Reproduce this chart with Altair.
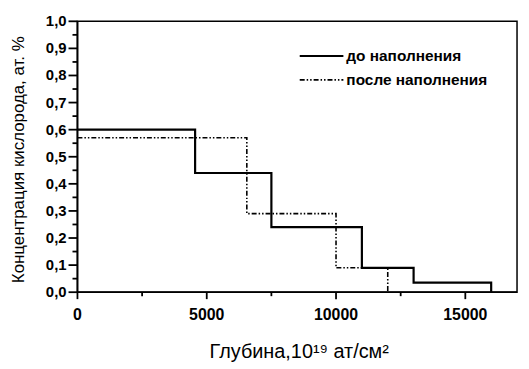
import altair as alt
import pandas as pd

# Series (step profiles)
depth_before = [0, 4550, 7500, 11000, 13000, 16000]
conc_before = [0.60, 0.44, 0.24, 0.09, 0.035, 0.0]
depth_after = [0, 6550, 10000, 12000]
conc_after = [0.57, 0.29, 0.09, 0.0]
series_names = ["до наполнения", "после наполнения"]

x_major = [0, 5000, 10000, 15000]
x_labels = ["0", "5000", "10000", "15000"]
x_minor = [2500, 7500, 12500]
y_major = [0.0, 0.1, 0.2, 0.3, 0.4, 0.5, 0.6, 0.7, 0.8, 0.9, 1.0]
y_labels = ["0,0", "0,1", "0,2", "0,3", "0,4", "0,5", "0,6", "0,7", "0,8", "0,9", "1,0"]
y_minor = [0.05, 0.15, 0.25, 0.35, 0.45, 0.55, 0.65, 0.75, 0.85, 0.95]
x_title = "Глубина,10¹⁹ ат/см²"
y_title = "Концентрация кислорода, ат. %"

df_b = pd.DataFrame({"x": depth_before, "y": conc_before, "s": series_names[0]})
df_a = pd.DataFrame({"x": depth_after, "y": conc_after, "s": series_names[1]})

FONT = "Liberation Sans"
DASH = [5, 2, 1.5, 2, 1.5, 2]
W, H = 443, 273

xscale = alt.Scale(domain=[0, 17000], nice=False, zero=False)
yscale = alt.Scale(domain=[0, 1.0], nice=False)

line_b = alt.Chart(df_b).mark_line(interpolate="step-after", color="black", strokeWidth=2.2).encode(
    x=alt.X("x:Q", scale=xscale, axis=None),
    y=alt.Y("y:Q", scale=yscale, axis=None),
)
line_a = alt.Chart(df_a).mark_line(interpolate="step-after", color="black", strokeWidth=1.6, strokeDash=DASH).encode(
    x=alt.X("x:Q", scale=xscale, axis=None),
    y=alt.Y("y:Q", scale=yscale, axis=None),
)

# axis lines (left & bottom) drawn heavier, like the original
axis_style = dict(color="black", strokeWidth=1.8)
x_domain = alt.Chart(pd.DataFrame({"a": [0]})).mark_rule(**axis_style).encode(
    x=alt.value(0), x2=alt.value(W), y=alt.value(H))
y_domain = alt.Chart(pd.DataFrame({"a": [0]})).mark_rule(**axis_style).encode(
    x=alt.value(0), y=alt.value(0), y2=alt.value(H))

# tick marks drawn from the tick arrays through the scales
tick_style = dict(color="black", strokeWidth=1.8)
xt_major = alt.Chart(pd.DataFrame({"x": x_major})).mark_rule(**tick_style).encode(
    x=alt.X("x:Q", scale=xscale, axis=None), y=alt.value(H), y2=alt.value(H + 7))
xt_minor = alt.Chart(pd.DataFrame({"x": x_minor})).mark_rule(**tick_style).encode(
    x=alt.X("x:Q", scale=xscale, axis=None), y=alt.value(H), y2=alt.value(H + 4))
yt_major = alt.Chart(pd.DataFrame({"y": y_major})).mark_rule(**tick_style).encode(
    y=alt.Y("y:Q", scale=yscale, axis=None), x=alt.value(0), x2=alt.value(-9))
yt_minor = alt.Chart(pd.DataFrame({"y": y_minor})).mark_rule(**tick_style).encode(
    y=alt.Y("y:Q", scale=yscale, axis=None), x=alt.value(0), x2=alt.value(-5))

# tick labels
xl = alt.Chart(pd.DataFrame({"x": x_major, "t": x_labels})).mark_text(
    align="center", baseline="top", font=FONT, fontSize=16, fontWeight="bold", color="black"
).encode(x=alt.X("x:Q", scale=xscale, axis=None), y=alt.value(H + 15), text="t:N")
yl = alt.Chart(pd.DataFrame({"y": y_major, "t": y_labels})).mark_text(
    align="right", baseline="middle", font=FONT, fontSize=15, fontWeight="bold", color="black"
).encode(y=alt.Y("y:Q", scale=yscale, axis=None), x=alt.value(-11), text="t:N")

# axis titles
xt = alt.Chart(pd.DataFrame({"t": [x_title]})).mark_text(
    align="center", baseline="middle", font=FONT, fontSize=20, color="black"
).encode(x=alt.value(W / 2 + 2), y=alt.value(H + 60), text="t:N")
yt = alt.Chart(pd.DataFrame({"t": [y_title]})).mark_text(
    align="center", baseline="middle", font=FONT, fontSize=17, angle=270, color="black"
).encode(x=alt.value(-59), y=alt.value(H / 2 + 3), text="t:N")

# legend
leg_b = alt.Chart(pd.DataFrame({"s": [series_names[0]]})).mark_rule(color="black", strokeWidth=2.2).encode(
    x=alt.value(224), x2=alt.value(268), y=alt.value(35)
)
leg_a = alt.Chart(pd.DataFrame({"s": [series_names[1]]})).mark_rule(color="black", strokeWidth=1.6, strokeDash=DASH).encode(
    x=alt.value(224), x2=alt.value(268), y=alt.value(59)
)
txt_b = alt.Chart(pd.DataFrame({"s": [series_names[0]]})).mark_text(
    align="left", baseline="middle", font=FONT, fontSize=15.5, fontWeight="bold", color="black"
).encode(x=alt.value(271), y=alt.value(35), text="s:N")
txt_a = alt.Chart(pd.DataFrame({"s": [series_names[1]]})).mark_text(
    align="left", baseline="middle", font=FONT, fontSize=15.5, fontWeight="bold", color="black"
).encode(x=alt.value(271), y=alt.value(59), text="s:N")

chart = alt.layer(line_b, line_a, x_domain, y_domain, xt_major, xt_minor, yt_major, yt_minor,
                  xl, yl, xt, yt, leg_b, leg_a, txt_b, txt_a).properties(
    width=W, height=H,
    autosize=alt.AutoSizeParams(type="none"),
    padding={"left": 70, "top": 12, "right": 4, "bottom": 76},
).configure_view(
    stroke="black", strokeWidth=1.5
)

chart.save("out.html", embed_options={"renderer": "svg", "actions": False})
